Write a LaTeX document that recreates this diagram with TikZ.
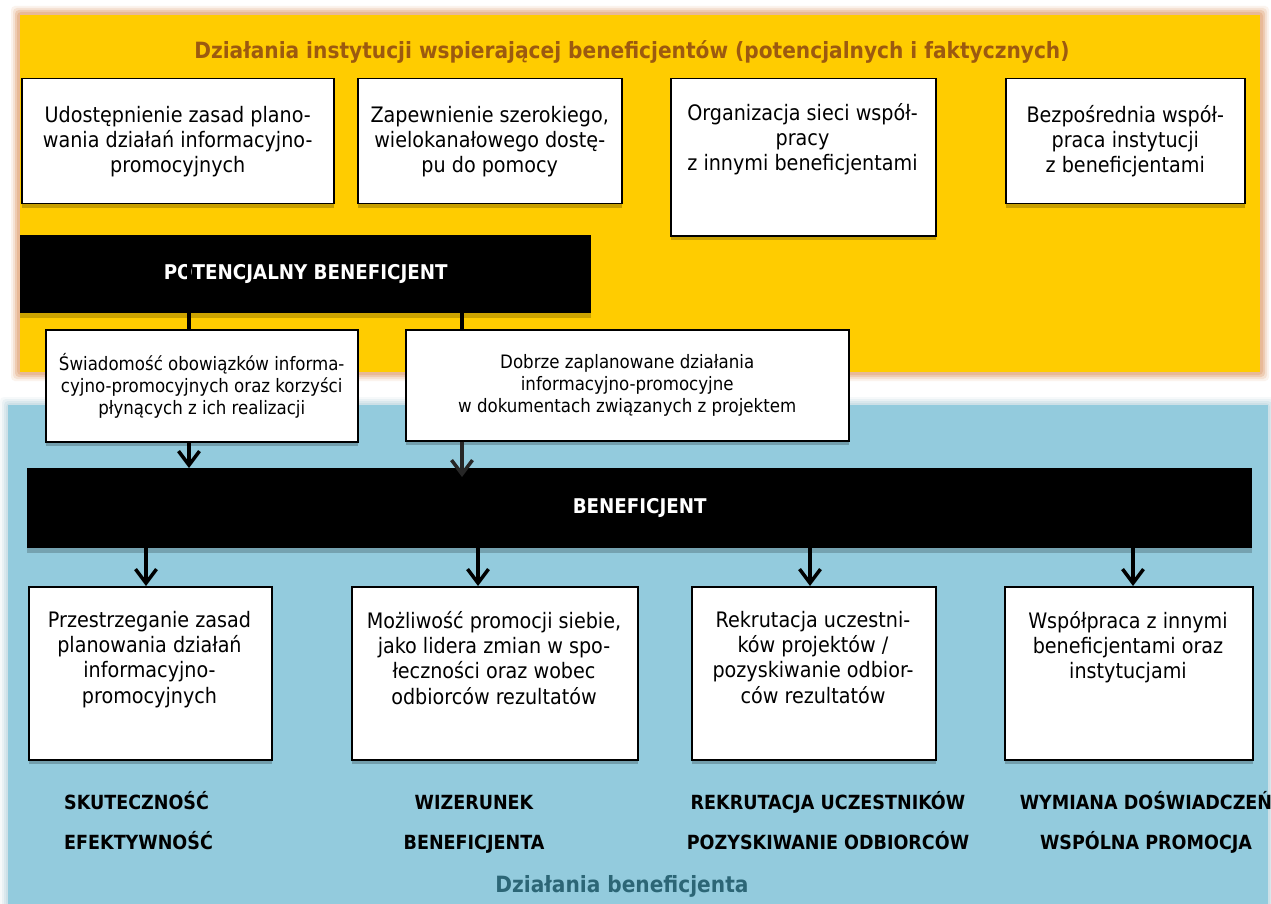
\documentclass[tikz,border=0pt]{standalone}
\usepackage{fontspec}
\setmainfont{DejaVuSansCondensed.ttf}[BoldFont=DejaVuSansCondensed-Bold.ttf]
\usetikzlibrary{arrows.meta,shadows,calc}
\definecolor{ylw}{HTML}{FFCC00}
\definecolor{glowy}{HTML}{E6B28C}
\definecolor{blu}{HTML}{93CBDD}
\definecolor{glowb}{HTML}{C5DCE3}
\definecolor{titlebrown}{HTML}{9C5A10}
\definecolor{tealtxt}{HTML}{2C6676}
\begin{document}
\begin{tikzpicture}[x=1pt,y=-1pt,
  box/.style={draw=black, line width=1.5pt, fill=white, inner sep=0pt, anchor=north west, align=center,
     font=\fontsize{21.3}{25}\selectfont,
     drop shadow={shadow xshift=0pt, shadow yshift=-4.5pt, opacity=0.22, fill=black}},
  midbox/.style={box, font=\fontsize{18.5}{22}\selectfont},
  bar/.style={fill=black, inner sep=0pt, anchor=north west, text=white,
     font=\bfseries\fontsize{20.3}{22}\selectfont,
     drop shadow={shadow xshift=0pt, shadow yshift=-4.5pt, opacity=0.2, fill=black}},
  txt/.style={align=center, inner sep=0pt, anchor=north, font=\fontsize{21.3}{25.3}\selectfont},
  lbl/.style={inner sep=0pt, anchor=base, font=\bfseries\fontsize{19.5}{22}\selectfont},
  headline/.style={inner sep=0pt, anchor=base, font=\bfseries\fontsize{22.4}{26}\selectfont},
  conn/.style={line width=4pt, draw=black},
  arr/.style={line width=3.5pt, draw=black, -{Straight Barb[length=14pt,width=21pt]}},
]
\useasboundingbox (0,0) rectangle (1271,904);
\fill[white] (0,0) rectangle (1271,904);
% yellow panel with glow
\foreach \d/\o in {9/0.15,7/0.25,5/0.45,3/0.7} \fill[glowy,opacity=\o,rounded corners=4pt] (20-\d,15-\d) rectangle (1260+\d,372+\d);
\fill[ylw] (20,15) rectangle (1260,372);
% blue panel with glow
\foreach \d/\o in {8/0.15,6/0.25,4/0.4,2/0.6} \fill[glowb,opacity=\o,rounded corners=4pt] (8-\d,405-\d) rectangle (1268+\d,915);
\fill[blu] (8,405) rectangle (1268,915);

\node[headline, text=titlebrown] (title) at (632,59) {Działania instytucji wspierającej beneficjentów (potencjalnych i faktycznych)};

% top boxes
\node[box, minimum width=312pt, minimum height=125pt] (t1) at (21,78) {Udostępnienie zasad plano-\\wania działań informacyjno-\\promocyjnych};
\node[box, minimum width=264pt, minimum height=125pt] (t2) at (357,78) {Zapewnienie szerokiego,\\wielokanałowego dostę-\\pu do pomocy};
\node[box, minimum width=265pt, minimum height=157pt] (t3) at (670,78) {};
\node[txt] (t3t) at (802.5,103) {Organizacja sieci współ-\\pracy\\z innymi beneficjentami};
\node[box, minimum width=239pt, minimum height=125pt] (t4) at (1005,78) {Bezpośrednia współ-\\praca instytucji\\z beneficjentami};

% potential beneficiary bar
\node[bar, minimum width=571pt, minimum height=78pt] (pbar) at (20,235) {POTENCJALNY BENEFICJENT};

% middle boxes
\node[midbox, minimum width=312pt, minimum height=112pt] (sw) at (45,329) {Świadomość obowiązków informa-\\cyjno-promocyjnych oraz korzyści\\płynących z ich realizacji};
\node[midbox, minimum width=443pt, minimum height=111pt] (dz) at (405,329) {Dobrze zaplanowane działania\\informacyjno-promocyjne\\w dokumentach związanych z projektem};

% beneficiary bar
\node[bar, minimum width=1225pt, minimum height=80pt] (benef) at (27,468) {BENEFICJENT};

% bottom boxes
\node[box, minimum width=243pt, minimum height=173pt] (b1) at (28,586) {};
\node[box, minimum width=286pt, minimum height=173pt] (b2) at (351,586) {};
\node[box, minimum width=244pt, minimum height=173pt] (b3) at (691,586) {};
\node[box, minimum width=248pt, minimum height=173pt] (b4) at (1004,586) {};
\node[txt] (b1t) at (149.5,611) {Przestrzeganie zasad\\planowania działań\\informacyjno-\\promocyjnych};
\node[txt] (b2t) at (494,611) {Możliwość promocji siebie,\\jako lidera zmian w spo-\\łeczności oraz wobec\\odbiorców rezultatów};
\node[txt] (b3t) at (813,611) {Rekrutacja uczestni-\\ków projektów /\\pozyskiwanie odbior-\\ców rezultatów};
\node[txt] (b4t) at (1128,611) {Współpraca z innymi\\beneficjentami oraz\\instytucjami};

% labels
\node[lbl, anchor=base west] (l1a) at (64,809) {SKUTECZNOŚĆ};
\node[lbl, anchor=base west] (l1b) at (64,849) {EFEKTYWNOŚĆ};
\node[lbl] (l2a) at (474,809) {WIZERUNEK};
\node[lbl] (l2b) at (474,849) {BENEFICJENTA};
\node[lbl] (l3a) at (828,809) {REKRUTACJA UCZESTNIKÓW};
\node[lbl] (l3b) at (828,849) {POZYSKIWANIE ODBIORCÓW};
\node[lbl] (l4a) at (1146,809) {WYMIANA DOŚWIADCZEŃ};
\node[lbl] (l4b) at (1146,849) {WSPÓLNA PROMOCJA};
\node[headline, text=tealtxt] (foot) at (622,892) {Działania beneficjenta};

% connectors
\coordinate (c1) at (189,0);
\coordinate (c2) at (462,0);
\coordinate (a1) at (146,0);
\coordinate (a2) at (478,0);
\coordinate (a3) at (810,0);
\coordinate (a4) at (1133,0);
\coordinate (c1top) at ($(pbar.center -| c1)+(0,-14)$);
\coordinate (dzend) at ($(benef.north -| c2)+(0,9)$);
\draw[conn] (c1top) -- (sw.north -| c1);
\draw[conn] (pbar.south -| c2) -- (dz.north -| c2);
\draw[arr] (sw.south -| c1) -- (benef.north -| c1);
\draw[arr, draw=black!85] (dz.south -| c2) -- (dzend);
\draw[arr] (benef.south -| a1) -- (b1.north -| a1);
\draw[arr] (benef.south -| a2) -- (b2.north -| a2);
\draw[arr] (benef.south -| a3) -- (b3.north -| a3);
\draw[arr] (benef.south -| a4) -- (b4.north -| a4);
\end{tikzpicture}
\end{document}
